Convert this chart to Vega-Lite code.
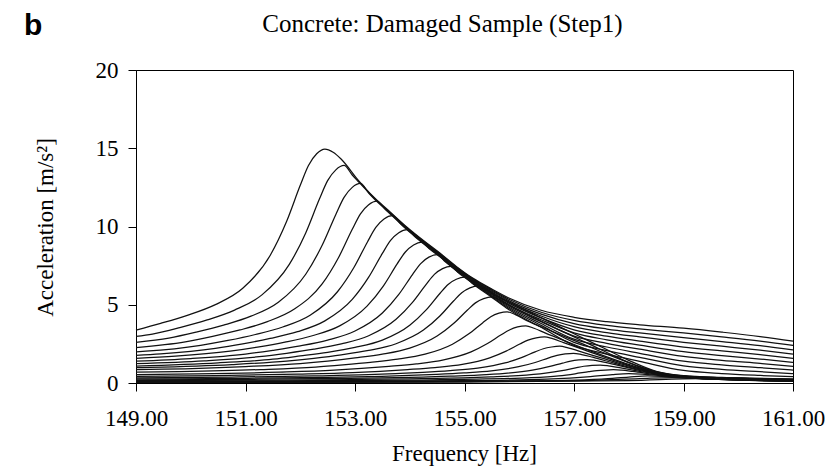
{
  "$schema": "https://vega.github.io/schema/vega-lite/v6.json",
  "width": 657,
  "height": 313,
  "autosize": {"type": "none"},
  "padding": {"left": 136, "top": 70, "right": 45, "bottom": 85},
  "background": "white",
  "title": {"text": "Concrete: Damaged Sample (Step1)", "font": "Liberation Serif", "fontSize": 25, "fontWeight": "normal", "color": "black", "anchor": "middle", "dx": -22, "offset": -26},
  "config": {"view": {"stroke": "black", "strokeWidth": 1}},
  "layer": [
    {
      "data": {"values": [
        {"c":1,"f":149,"a":3.38},{"c":1,"f":149.45,"a":3.81},{"c":1,"f":149.95,"a":4.34},{"c":1,"f":150.45,"a":5.01},{"c":1,"f":150.95,"a":6.05},{"c":1,"f":151.45,"a":8.15},{"c":1,"f":151.75,"a":10.32},{"c":1,"f":152.0,"a":12.63},{"c":1,"f":152.15,"a":13.9},{"c":1,"f":152.3,"a":14.65},{"c":1,"f":152.45,"a":14.95},{"c":1,"f":152.6,"a":14.75},{"c":1,"f":152.75,"a":14.3},{"c":1,"f":153.05,"a":13.0},{"c":1,"f":153.35,"a":11.85},{"c":1,"f":153.65,"a":10.9},{"c":1,"f":153.95,"a":9.95},{"c":1,"f":154.25,"a":9.1},{"c":1,"f":154.55,"a":8.3},{"c":1,"f":154.85,"a":7.45},{"c":1,"f":155.15,"a":6.7},{"c":1,"f":155.5,"a":6.0},{"c":1,"f":155.8,"a":5.45},{"c":1,"f":156.4,"a":4.65},{"c":1,"f":157.0,"a":4.2},{"c":1,"f":157.6,"a":3.92},{"c":1,"f":158.2,"a":3.72},{"c":1,"f":159.0,"a":3.5},{"c":1,"f":159.7,"a":3.25},{"c":1,"f":160.4,"a":2.97},{"c":1,"f":161,"a":2.68},
        {"c":2,"f":149,"a":2.98},{"c":2,"f":149.3,"a":3.13},{"c":2,"f":149.8,"a":3.54},{"c":2,"f":150.3,"a":4.03},{"c":2,"f":150.8,"a":4.66},{"c":2,"f":151.3,"a":5.63},{"c":2,"f":151.8,"a":7.58},{"c":2,"f":152.1,"a":9.59},{"c":2,"f":152.35,"a":11.75},{"c":2,"f":152.5,"a":12.93},{"c":2,"f":152.65,"a":13.62},{"c":2,"f":152.8,"a":13.9},{"c":2,"f":152.95,"a":13.29},{"c":2,"f":153.05,"a":12.91},{"c":2,"f":153.35,"a":11.81},{"c":2,"f":153.65,"a":10.86},{"c":2,"f":153.95,"a":9.91},{"c":2,"f":154.25,"a":9.06},{"c":2,"f":154.55,"a":8.26},{"c":2,"f":154.85,"a":7.41},{"c":2,"f":155.15,"a":6.66},{"c":2,"f":155.5,"a":5.94},{"c":2,"f":155.8,"a":5.37},{"c":2,"f":156.4,"a":4.52},{"c":2,"f":157.0,"a":4.0},{"c":2,"f":157.6,"a":3.68},{"c":2,"f":158.2,"a":3.46},{"c":2,"f":159.0,"a":3.2},{"c":2,"f":159.7,"a":2.95},{"c":2,"f":160.4,"a":2.68},{"c":2,"f":161,"a":2.4},
        {"c":3,"f":149,"a":2.6},{"c":3,"f":149.6,"a":2.87},{"c":3,"f":150.1,"a":3.25},{"c":3,"f":150.6,"a":3.7},{"c":3,"f":151.1,"a":4.27},{"c":3,"f":151.6,"a":5.16},{"c":3,"f":152.1,"a":6.95},{"c":3,"f":152.4,"a":8.8},{"c":3,"f":152.65,"a":10.77},{"c":3,"f":152.8,"a":11.86},{"c":3,"f":152.95,"a":12.5},{"c":3,"f":153.1,"a":12.75},{"c":3,"f":153.25,"a":12.14},{"c":3,"f":153.35,"a":11.77},{"c":3,"f":153.65,"a":10.82},{"c":3,"f":153.95,"a":9.87},{"c":3,"f":154.25,"a":9.02},{"c":3,"f":154.55,"a":8.22},{"c":3,"f":154.85,"a":7.37},{"c":3,"f":155.15,"a":6.62},{"c":3,"f":155.5,"a":5.88},{"c":3,"f":155.8,"a":5.28},{"c":3,"f":156.4,"a":4.4},{"c":3,"f":157.0,"a":3.8},{"c":3,"f":157.6,"a":3.45},{"c":3,"f":158.2,"a":3.2},{"c":3,"f":159.0,"a":2.9},{"c":3,"f":159.7,"a":2.65},{"c":3,"f":160.4,"a":2.39},{"c":3,"f":161,"a":2.12},
        {"c":4,"f":149,"a":2.26},{"c":4,"f":149.9,"a":2.63},{"c":4,"f":150.4,"a":2.98},{"c":4,"f":150.9,"a":3.39},{"c":4,"f":151.4,"a":3.92},{"c":4,"f":151.9,"a":4.74},{"c":4,"f":152.4,"a":6.33},{"c":4,"f":152.7,"a":8.02},{"c":4,"f":152.95,"a":9.82},{"c":4,"f":153.1,"a":10.81},{"c":4,"f":153.25,"a":11.39},{"c":4,"f":153.4,"a":11.62},{"c":4,"f":153.55,"a":11.1},{"c":4,"f":153.65,"a":10.78},{"c":4,"f":153.95,"a":9.83},{"c":4,"f":154.25,"a":8.98},{"c":4,"f":154.55,"a":8.18},{"c":4,"f":154.85,"a":7.33},{"c":4,"f":155.15,"a":6.58},{"c":4,"f":155.5,"a":5.82},{"c":4,"f":155.8,"a":5.2},{"c":4,"f":156.4,"a":4.28},{"c":4,"f":157.0,"a":3.6},{"c":4,"f":157.6,"a":3.22},{"c":4,"f":158.2,"a":2.94},{"c":4,"f":159.0,"a":2.6},{"c":4,"f":159.7,"a":2.35},{"c":4,"f":160.4,"a":2.1},{"c":4,"f":161,"a":1.85},
        {"c":5,"f":149,"a":1.99},{"c":5,"f":149.18,"a":2.03},{"c":5,"f":150.18,"a":2.41},{"c":5,"f":150.68,"a":2.72},{"c":5,"f":151.18,"a":3.1},{"c":5,"f":151.68,"a":3.58},{"c":5,"f":152.18,"a":4.33},{"c":5,"f":152.68,"a":5.83},{"c":5,"f":152.98,"a":7.38},{"c":5,"f":153.23,"a":9.03},{"c":5,"f":153.38,"a":9.94},{"c":5,"f":153.53,"a":10.48},{"c":5,"f":153.68,"a":10.69},{"c":5,"f":153.83,"a":10.17},{"c":5,"f":153.95,"a":9.79},{"c":5,"f":154.25,"a":8.94},{"c":5,"f":154.55,"a":8.14},{"c":5,"f":154.85,"a":7.29},{"c":5,"f":155.15,"a":6.54},{"c":5,"f":155.5,"a":5.76},{"c":5,"f":155.8,"a":5.12},{"c":5,"f":156.4,"a":4.16},{"c":5,"f":157.0,"a":3.4},{"c":5,"f":157.6,"a":2.99},{"c":5,"f":158.2,"a":2.68},{"c":5,"f":159.0,"a":2.3},{"c":5,"f":159.7,"a":2.05},{"c":5,"f":160.4,"a":1.81},{"c":5,"f":161,"a":1.58},
        {"c":6,"f":149,"a":1.77},{"c":6,"f":149.45,"a":1.86},{"c":6,"f":150.45,"a":2.21},{"c":6,"f":150.95,"a":2.5},{"c":6,"f":151.45,"a":2.85},{"c":6,"f":151.95,"a":3.28},{"c":6,"f":152.45,"a":3.97},{"c":6,"f":152.95,"a":5.34},{"c":6,"f":153.25,"a":6.76},{"c":6,"f":153.5,"a":8.28},{"c":6,"f":153.65,"a":9.11},{"c":6,"f":153.8,"a":9.6},{"c":6,"f":153.95,"a":9.8},{"c":6,"f":154.1,"a":9.33},{"c":6,"f":154.25,"a":8.9},{"c":6,"f":154.55,"a":8.1},{"c":6,"f":154.85,"a":7.25},{"c":6,"f":155.15,"a":6.5},{"c":6,"f":155.5,"a":5.71},{"c":6,"f":155.8,"a":5.03},{"c":6,"f":156.4,"a":4.04},{"c":6,"f":157.0,"a":3.2},{"c":6,"f":157.6,"a":2.76},{"c":6,"f":158.2,"a":2.42},{"c":6,"f":159.0,"a":2.0},{"c":6,"f":159.7,"a":1.75},{"c":6,"f":160.4,"a":1.53},{"c":6,"f":161,"a":1.32},
        {"c":7,"f":149,"a":1.58},{"c":7,"f":149.72,"a":1.71},{"c":7,"f":150.72,"a":2.03},{"c":7,"f":151.22,"a":2.29},{"c":7,"f":151.72,"a":2.61},{"c":7,"f":152.22,"a":3.02},{"c":7,"f":152.72,"a":3.65},{"c":7,"f":153.22,"a":4.91},{"c":7,"f":153.52,"a":6.21},{"c":7,"f":153.77,"a":7.61},{"c":7,"f":153.92,"a":8.37},{"c":7,"f":154.07,"a":8.82},{"c":7,"f":154.22,"a":9.0},{"c":7,"f":154.37,"a":8.54},{"c":7,"f":154.55,"a":8.06},{"c":7,"f":154.85,"a":7.21},{"c":7,"f":155.15,"a":6.46},{"c":7,"f":155.5,"a":5.65},{"c":7,"f":155.8,"a":4.95},{"c":7,"f":156.4,"a":3.92},{"c":7,"f":157.0,"a":3.0},{"c":7,"f":157.6,"a":2.53},{"c":7,"f":158.2,"a":2.16},{"c":7,"f":159.0,"a":1.7},{"c":7,"f":159.7,"a":1.45},{"c":7,"f":160.4,"a":1.25},{"c":7,"f":161,"a":1.07},
        {"c":8,"f":149,"a":1.39},{"c":8,"f":150.0,"a":1.56},{"c":8,"f":151.0,"a":1.85},{"c":8,"f":151.5,"a":2.09},{"c":8,"f":152.0,"a":2.37},{"c":8,"f":152.5,"a":2.74},{"c":8,"f":153.0,"a":3.32},{"c":8,"f":153.5,"a":4.47},{"c":8,"f":153.8,"a":5.66},{"c":8,"f":154.05,"a":6.93},{"c":8,"f":154.2,"a":7.63},{"c":8,"f":154.35,"a":8.04},{"c":8,"f":154.5,"a":8.2},{"c":8,"f":154.65,"a":7.74},{"c":8,"f":154.85,"a":7.17},{"c":8,"f":155.15,"a":6.42},{"c":8,"f":155.5,"a":5.59},{"c":8,"f":155.8,"a":4.87},{"c":8,"f":156.4,"a":3.8},{"c":8,"f":157.0,"a":2.8},{"c":8,"f":157.6,"a":2.3},{"c":8,"f":158.2,"a":1.9},{"c":8,"f":159.0,"a":1.4},{"c":8,"f":159.7,"a":1.16},{"c":8,"f":160.4,"a":0.98},{"c":8,"f":161,"a":0.83},
        {"c":9,"f":149,"a":1.24},{"c":9,"f":150.25,"a":1.42},{"c":9,"f":151.25,"a":1.68},{"c":9,"f":151.75,"a":1.9},{"c":9,"f":152.25,"a":2.16},{"c":9,"f":152.75,"a":2.5},{"c":9,"f":153.25,"a":3.02},{"c":9,"f":153.75,"a":4.07},{"c":9,"f":154.05,"a":5.15},{"c":9,"f":154.3,"a":6.3},{"c":9,"f":154.45,"a":6.94},{"c":9,"f":154.6,"a":7.31},{"c":9,"f":154.75,"a":7.46},{"c":9,"f":154.9,"a":7.01},{"c":9,"f":155.15,"a":6.38},{"c":9,"f":155.5,"a":5.53},{"c":9,"f":155.8,"a":4.79},{"c":9,"f":156.4,"a":3.68},{"c":9,"f":157.0,"a":2.6},{"c":9,"f":157.6,"a":2.07},{"c":9,"f":158.2,"a":1.64},{"c":9,"f":159.0,"a":1.1},{"c":9,"f":159.7,"a":0.87},{"c":9,"f":160.4,"a":0.72},{"c":9,"f":161,"a":0.6},
        {"c":10,"f":149,"a":1.08},{"c":10,"f":150.5,"a":1.29},{"c":10,"f":151.5,"a":1.52},{"c":10,"f":152.0,"a":1.73},{"c":10,"f":152.5,"a":1.96},{"c":10,"f":153.0,"a":2.27},{"c":10,"f":153.5,"a":2.74},{"c":10,"f":154.0,"a":3.69},{"c":10,"f":154.3,"a":4.67},{"c":10,"f":154.55,"a":5.72},{"c":10,"f":154.7,"a":6.3},{"c":10,"f":154.85,"a":6.63},{"c":10,"f":155.0,"a":6.77},{"c":10,"f":155.15,"a":6.34},{"c":10,"f":155.5,"a":5.47},{"c":10,"f":155.8,"a":4.71},{"c":10,"f":156.4,"a":3.56},{"c":10,"f":157.0,"a":2.4},{"c":10,"f":157.6,"a":1.84},{"c":10,"f":158.2,"a":1.38},{"c":10,"f":159.0,"a":0.8},{"c":10,"f":159.7,"a":0.6},{"c":10,"f":160.4,"a":0.48},{"c":10,"f":161,"a":0.4},
        {"c":11,"f":149,"a":0.98},{"c":11,"f":149.25,"a":1.0},{"c":11,"f":150.75,"a":1.18},{"c":11,"f":151.75,"a":1.4},{"c":11,"f":152.25,"a":1.58},{"c":11,"f":152.75,"a":1.8},{"c":11,"f":153.25,"a":2.08},{"c":11,"f":153.75,"a":2.51},{"c":11,"f":154.25,"a":3.38},{"c":11,"f":154.55,"a":4.28},{"c":11,"f":154.8,"a":5.24},{"c":11,"f":154.95,"a":5.77},{"c":11,"f":155.1,"a":6.08},{"c":11,"f":155.25,"a":6.2},{"c":11,"f":155.4,"a":5.97},{"c":11,"f":155.6,"a":5.55},{"c":11,"f":156.0,"a":4.85},{"c":11,"f":156.5,"a":4.0},{"c":11,"f":157.0,"a":3.15},{"c":11,"f":157.5,"a":2.3},{"c":11,"f":158.0,"a":1.45},{"c":11,"f":158.5,"a":0.75},{"c":11,"f":159.0,"a":0.47},{"c":11,"f":159.7,"a":0.36},{"c":11,"f":160.4,"a":0.3},{"c":11,"f":161,"a":0.25},
        {"c":12,"f":149,"a":0.85},{"c":12,"f":149.5,"a":0.88},{"c":12,"f":151.0,"a":1.05},{"c":12,"f":152.0,"a":1.24},{"c":12,"f":152.5,"a":1.4},{"c":12,"f":153.0,"a":1.6},{"c":12,"f":153.5,"a":1.84},{"c":12,"f":154.0,"a":2.23},{"c":12,"f":154.5,"a":3.0},{"c":12,"f":154.8,"a":3.8},{"c":12,"f":155.05,"a":4.65},{"c":12,"f":155.2,"a":5.12},{"c":12,"f":155.35,"a":5.39},{"c":12,"f":155.5,"a":5.5},{"c":12,"f":155.65,"a":5.3},{"c":12,"f":155.85,"a":4.9},{"c":12,"f":156.3,"a":4.12},{"c":12,"f":156.8,"a":3.28},{"c":12,"f":157.3,"a":2.45},{"c":12,"f":157.8,"a":1.62},{"c":12,"f":158.3,"a":0.9},{"c":12,"f":158.8,"a":0.5},{"c":12,"f":159.5,"a":0.36},{"c":12,"f":160.3,"a":0.29},{"c":12,"f":161,"a":0.24},
        {"c":13,"f":149,"a":0.69},{"c":13,"f":149.78,"a":0.73},{"c":13,"f":151.28,"a":0.86},{"c":13,"f":152.28,"a":1.02},{"c":13,"f":152.78,"a":1.16},{"c":13,"f":153.28,"a":1.32},{"c":13,"f":153.78,"a":1.52},{"c":13,"f":154.28,"a":1.84},{"c":13,"f":154.78,"a":2.48},{"c":13,"f":155.08,"a":3.14},{"c":13,"f":155.33,"a":3.84},{"c":13,"f":155.48,"a":4.23},{"c":13,"f":155.63,"a":4.46},{"c":13,"f":155.78,"a":4.55},{"c":13,"f":155.93,"a":4.37},{"c":13,"f":156.13,"a":4.0},{"c":13,"f":156.6,"a":3.3},{"c":13,"f":157.1,"a":2.58},{"c":13,"f":157.6,"a":1.85},{"c":13,"f":158.1,"a":1.18},{"c":13,"f":158.6,"a":0.64},{"c":13,"f":159.1,"a":0.42},{"c":13,"f":159.8,"a":0.33},{"c":13,"f":160.5,"a":0.27},{"c":13,"f":161,"a":0.23},
        {"c":14,"f":149,"a":0.54},{"c":14,"f":150.12,"a":0.58},{"c":14,"f":151.62,"a":0.69},{"c":14,"f":152.62,"a":0.82},{"c":14,"f":153.12,"a":0.93},{"c":14,"f":153.62,"a":1.06},{"c":14,"f":154.12,"a":1.22},{"c":14,"f":154.62,"a":1.48},{"c":14,"f":155.12,"a":1.99},{"c":14,"f":155.42,"a":2.52},{"c":14,"f":155.67,"a":3.08},{"c":14,"f":155.82,"a":3.39},{"c":14,"f":155.97,"a":3.58},{"c":14,"f":156.12,"a":3.65},{"c":14,"f":156.27,"a":3.5},{"c":14,"f":156.47,"a":3.2},{"c":14,"f":156.9,"a":2.6},{"c":14,"f":157.4,"a":1.92},{"c":14,"f":157.9,"a":1.3},{"c":14,"f":158.4,"a":0.76},{"c":14,"f":158.9,"a":0.46},{"c":14,"f":159.5,"a":0.35},{"c":14,"f":160.3,"a":0.27},{"c":14,"f":161,"a":0.21},
        {"c":15,"f":149,"a":0.42},{"c":15,"f":150.46,"a":0.47},{"c":15,"f":151.96,"a":0.56},{"c":15,"f":152.96,"a":0.66},{"c":15,"f":153.46,"a":0.75},{"c":15,"f":153.96,"a":0.86},{"c":15,"f":154.46,"a":0.99},{"c":15,"f":154.96,"a":1.19},{"c":15,"f":155.46,"a":1.61},{"c":15,"f":155.76,"a":2.04},{"c":15,"f":156.01,"a":2.49},{"c":15,"f":156.16,"a":2.74},{"c":15,"f":156.31,"a":2.89},{"c":15,"f":156.46,"a":2.95},{"c":15,"f":156.61,"a":2.83},{"c":15,"f":156.81,"a":2.58},{"c":15,"f":157.2,"a":2.1},{"c":15,"f":157.7,"a":1.48},{"c":15,"f":158.2,"a":0.92},{"c":15,"f":158.7,"a":0.54},{"c":15,"f":159.2,"a":0.38},{"c":15,"f":159.9,"a":0.3},{"c":15,"f":160.5,"a":0.24},{"c":15,"f":161,"a":0.2},
        {"c":16,"f":149,"a":0.33},{"c":16,"f":150.74,"a":0.38},{"c":16,"f":152.24,"a":0.45},{"c":16,"f":153.24,"a":0.53},{"c":16,"f":153.74,"a":0.6},{"c":16,"f":154.24,"a":0.68},{"c":16,"f":154.74,"a":0.79},{"c":16,"f":155.24,"a":0.95},{"c":16,"f":155.74,"a":1.28},{"c":16,"f":156.04,"a":1.62},{"c":16,"f":156.29,"a":1.99},{"c":16,"f":156.44,"a":2.19},{"c":16,"f":156.59,"a":2.3},{"c":16,"f":156.74,"a":2.35},{"c":16,"f":156.89,"a":2.25},{"c":16,"f":157.09,"a":2.04},{"c":16,"f":157.5,"a":1.6},{"c":16,"f":158.0,"a":1.08},{"c":16,"f":158.5,"a":0.64},{"c":16,"f":159.0,"a":0.4},{"c":16,"f":159.6,"a":0.29},{"c":16,"f":160.3,"a":0.23},{"c":16,"f":161,"a":0.18},
        {"c":17,"f":149,"a":0.26},{"c":17,"f":150.99,"a":0.3},{"c":17,"f":152.49,"a":0.36},{"c":17,"f":153.49,"a":0.43},{"c":17,"f":153.99,"a":0.48},{"c":17,"f":154.49,"a":0.55},{"c":17,"f":154.99,"a":0.64},{"c":17,"f":155.49,"a":0.77},{"c":17,"f":155.99,"a":1.04},{"c":17,"f":156.29,"a":1.31},{"c":17,"f":156.54,"a":1.61},{"c":17,"f":156.69,"a":1.77},{"c":17,"f":156.84,"a":1.86},{"c":17,"f":156.99,"a":1.9},{"c":17,"f":157.14,"a":1.82},{"c":17,"f":157.34,"a":1.65},{"c":17,"f":157.75,"a":1.25},{"c":17,"f":158.25,"a":0.8},{"c":17,"f":158.75,"a":0.47},{"c":17,"f":159.3,"a":0.31},{"c":17,"f":160.0,"a":0.24},{"c":17,"f":161,"a":0.17},
        {"c":18,"f":149,"a":0.2},{"c":18,"f":151.24,"a":0.24},{"c":18,"f":152.74,"a":0.29},{"c":18,"f":153.74,"a":0.34},{"c":18,"f":154.24,"a":0.38},{"c":18,"f":154.74,"a":0.44},{"c":18,"f":155.24,"a":0.5},{"c":18,"f":155.74,"a":0.61},{"c":18,"f":156.24,"a":0.82},{"c":18,"f":156.54,"a":1.04},{"c":18,"f":156.79,"a":1.27},{"c":18,"f":156.94,"a":1.4},{"c":18,"f":157.09,"a":1.47},{"c":18,"f":157.24,"a":1.5},{"c":18,"f":157.39,"a":1.44},{"c":18,"f":157.59,"a":1.3},{"c":18,"f":158.0,"a":0.96},{"c":18,"f":158.5,"a":0.58},{"c":18,"f":159.0,"a":0.36},{"c":18,"f":159.6,"a":0.26},{"c":18,"f":160.3,"a":0.2},{"c":18,"f":161,"a":0.15},
        {"c":19,"f":149,"a":0.15},{"c":19,"f":151.48,"a":0.18},{"c":19,"f":152.98,"a":0.22},{"c":19,"f":153.98,"a":0.26},{"c":19,"f":154.48,"a":0.29},{"c":19,"f":154.98,"a":0.33},{"c":19,"f":155.48,"a":0.39},{"c":19,"f":155.98,"a":0.47},{"c":19,"f":156.48,"a":0.63},{"c":19,"f":156.78,"a":0.79},{"c":19,"f":157.03,"a":0.97},{"c":19,"f":157.18,"a":1.07},{"c":19,"f":157.33,"a":1.13},{"c":19,"f":157.48,"a":1.15},{"c":19,"f":157.63,"a":1.1},{"c":19,"f":157.83,"a":0.98},{"c":19,"f":158.2,"a":0.75},{"c":19,"f":158.7,"a":0.47},{"c":19,"f":159.2,"a":0.31},{"c":19,"f":159.8,"a":0.23},{"c":19,"f":160.5,"a":0.17},{"c":19,"f":161,"a":0.14},
        {"c":20,"f":149,"a":0.11},{"c":20,"f":151.72,"a":0.14},{"c":20,"f":153.22,"a":0.16},{"c":20,"f":154.22,"a":0.19},{"c":20,"f":154.72,"a":0.22},{"c":20,"f":155.22,"a":0.25},{"c":20,"f":155.72,"a":0.28},{"c":20,"f":156.22,"a":0.34},{"c":20,"f":156.72,"a":0.46},{"c":20,"f":157.02,"a":0.59},{"c":20,"f":157.27,"a":0.72},{"c":20,"f":157.42,"a":0.79},{"c":20,"f":157.57,"a":0.83},{"c":20,"f":157.72,"a":0.85},{"c":20,"f":157.87,"a":0.82},{"c":20,"f":158.07,"a":0.74},{"c":20,"f":158.5,"a":0.54},{"c":20,"f":159.0,"a":0.35},{"c":20,"f":159.6,"a":0.24},{"c":20,"f":160.3,"a":0.17},{"c":20,"f":161,"a":0.13},
        {"c":21,"f":149,"a":0.08},{"c":21,"f":152,"a":0.1},{"c":21,"f":155,"a":0.15},{"c":21,"f":156.5,"a":0.24},{"c":21,"f":157.3,"a":0.4},{"c":21,"f":157.7,"a":0.54},{"c":21,"f":158.0,"a":0.6},{"c":21,"f":158.3,"a":0.55},{"c":21,"f":158.8,"a":0.4},{"c":21,"f":159.5,"a":0.25},{"c":21,"f":160.3,"a":0.16},{"c":21,"f":161,"a":0.12},
        {"c":22,"f":149,"a":0.06},{"c":22,"f":153,"a":0.08},{"c":22,"f":156,"a":0.13},{"c":22,"f":157.5,"a":0.25},{"c":22,"f":158.0,"a":0.38},{"c":22,"f":158.35,"a":0.45},{"c":22,"f":158.7,"a":0.4},{"c":22,"f":159.3,"a":0.28},{"c":22,"f":160.2,"a":0.16},{"c":22,"f":161,"a":0.11},
        {"c":23,"f":149,"a":0.05},{"c":23,"f":154,"a":0.07},{"c":23,"f":157,"a":0.14},{"c":23,"f":158.2,"a":0.28},{"c":23,"f":158.8,"a":0.35},{"c":23,"f":159.3,"a":0.3},{"c":23,"f":160.0,"a":0.2},{"c":23,"f":161,"a":0.12},
        {"c":24,"f":149,"a":0.04},{"c":24,"f":155,"a":0.06},{"c":24,"f":158,"a":0.15},{"c":24,"f":159.3,"a":0.28},{"c":24,"f":160,"a":0.22},{"c":24,"f":161,"a":0.13}
      ]},
      "mark": {"type": "line", "interpolate": "monotone", "stroke": "#111111", "strokeWidth": 1.25},
      "encoding": {
        "x": {"field": "f", "type": "quantitative",
          "scale": {"domain": [149, 161], "nice": false, "zero": false},
          "axis": {"values": [149, 151, 153, 155, 157, 159, 161], "format": ".2f", "title": "Frequency [Hz]", "grid": false,
            "tickSize": 8, "tickColor": "black", "domainColor": "black", "labelPadding": 16, "labelFlush": false,
            "labelFont": "Liberation Serif", "labelFontSize": 23, "labelColor": "black",
            "titleFont": "Liberation Serif", "titleFontSize": 23, "titleFontWeight": "normal", "titleColor": "black",
            "titleX": 328, "titleY": 70, "titleBaseline": "middle", "titleAlign": "center"}},
        "y": {"field": "a", "type": "quantitative",
          "scale": {"domain": [0, 20], "nice": false},
          "axis": {"values": [0, 5, 10, 15, 20], "title": "Acceleration [m/s²]", "grid": false,
            "tickSize": 8, "tickColor": "black", "domainColor": "black", "labelPadding": 10,
            "labelFont": "Liberation Serif", "labelFontSize": 23, "labelColor": "black",
            "titleFont": "Liberation Serif", "titleFontSize": 23, "titleFontWeight": "normal", "titleColor": "black",
            "titleAngle": -90, "titleX": -91, "titleY": 157, "titleBaseline": "middle", "titleAlign": "center"}},
        "detail": {"field": "c", "type": "nominal"}
      }
    },
    {
      "data": {"values": [{"t": "b"}]},
      "mark": {"type": "text", "font": "Liberation Sans", "fontWeight": "bold", "fontSize": 30, "color": "black", "align": "center", "baseline": "alphabetic"},
      "encoding": {
        "text": {"field": "t", "type": "nominal"},
        "x": {"datum": 147.12},
        "y": {"datum": 22.24}
      }
    }
  ]
}
